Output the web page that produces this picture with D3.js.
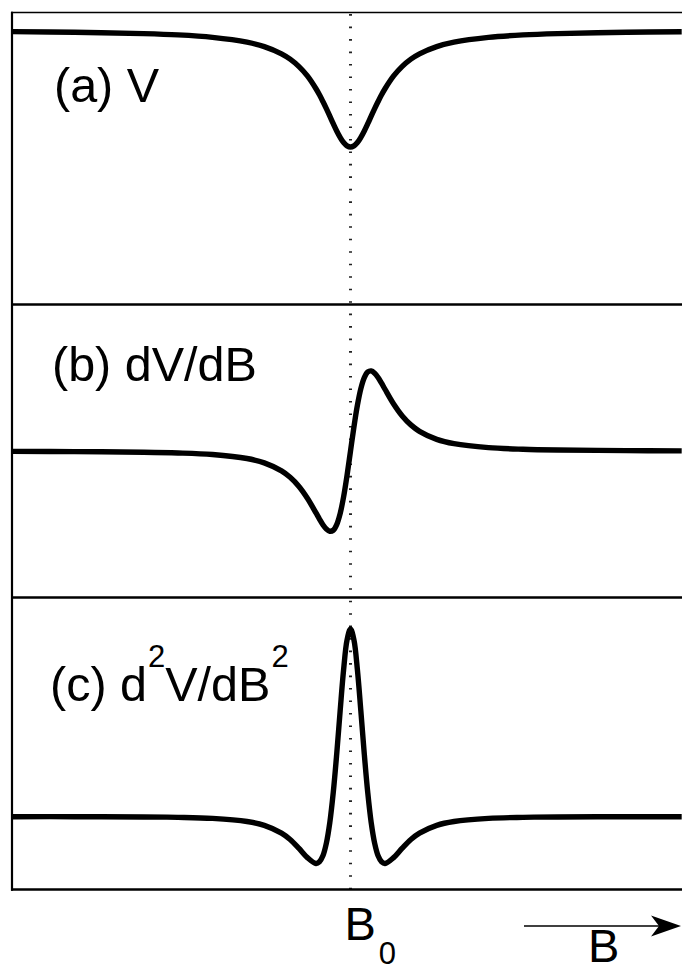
<!DOCTYPE html>
<html>
<head>
<meta charset="utf-8">
<script src="https://cdn.jsdelivr.net/npm/d3@7"></script>
<style>
  html, body { margin: 0; padding: 0; background: #fff; }
  svg { display: block; }
  text { font-family: "Liberation Sans", Arial, Helvetica, sans-serif; fill: #000; }
</style>
</head>
<body>
<div id="chart"></div>
<script>
// field offset from B0, in units of the line half-width
var B = [-9.8, -8, -6, -5, -4, -3, -2.5, -2, -1.75, -1.5, -1.25, -1, -0.9, -0.8, -0.7, -0.6, -0.5, -0.4, -0.3, -0.2, -0.1,
         0,
         0.1, 0.2, 0.3, 0.4, 0.5, 0.6, 0.7, 0.8, 0.9, 1, 1.25, 1.5, 1.75, 2, 2.5, 3, 4, 5, 6, 8, 9.6];

// (a) V
var V = [-0.010, -0.015, -0.027, -0.038, -0.059, -0.100, -0.138, -0.200, -0.246, -0.308, -0.390, -0.500, -0.552, -0.610, -0.671, -0.735, -0.800, -0.862, -0.917, -0.962, -0.990,
         -1.000,
         -0.990, -0.962, -0.917, -0.862, -0.800, -0.735, -0.671, -0.610, -0.552, -0.500, -0.390, -0.308, -0.246, -0.200, -0.138, -0.100, -0.059, -0.038, -0.027, -0.015, -0.011];

// (b) dV/dB
var dV = [-0.002, -0.004, -0.009, -0.015, -0.028, -0.060, -0.095, -0.160, -0.212, -0.284, -0.381, -0.500, -0.549, -0.595, -0.630, -0.648, -0.640, -0.594, -0.505, -0.370, -0.196,
          0,
          0.196, 0.370, 0.505, 0.594, 0.640, 0.648, 0.630, 0.595, 0.549, 0.500, 0.381, 0.284, 0.212, 0.160, 0.095, 0.060, 0.028, 0.015, 0.009, 0.004, 0.002];

// (c) d2V/dB2
var d2V = [-0.001, -0.001, -0.004, -0.008, -0.019, -0.052, -0.093, -0.176, -0.244, -0.336, -0.437, -0.500, -0.482, -0.418, -0.284, -0.064, 0.256, 0.666, 1.127, 1.566, 1.883,
           2.000,
           1.883, 1.566, 1.127, 0.666, 0.256, -0.064, -0.284, -0.418, -0.482, -0.500, -0.437, -0.336, -0.244, -0.176, -0.093, -0.052, -0.019, -0.008, -0.004, -0.001, -0.001];

var width = 682, height = 971;

var svg = d3.select("#chart").append("svg")
    .attr("width", width)
    .attr("height", height);

var x = d3.scaleLinear().domain([-1, 1]).range([316, 385]);

// one panel per trace, each with its own y scale
var panels = [
    { values: V,   y: d3.scaleLinear().domain([-1, 0]).range([147, 30.5]) },
    { values: dV,  y: d3.scaleLinear().domain([-0.65, 0.65]).range([531.5, 370.7]) },
    { values: d2V, y: d3.scaleLinear().domain([-0.5, 2]).range([863.5, 629]) }
];

var frameLeft = 12, frameTop = 12.5, frameBottom = 889.5;
var dividers = [304.5, 597.5];

// dotted line at B0
svg.append("line")
    .attr("x1", x(0)).attr("x2", x(0))
    .attr("y1", frameTop).attr("y2", frameBottom)
    .attr("stroke", "#222")
    .attr("stroke-width", 3)
    .attr("stroke-dasharray", "1.6 10.88")
    .attr("stroke-dashoffset", -1.6);

// traces
panels.forEach(function(p) {
    var line = d3.line()
        .x(function(d, i) { return x(B[i]); })
        .y(function(d) { return p.y(d); })
        .curve(d3.curveCatmullRom.alpha(0.5));

    svg.append("path")
        .datum(p.values)
        .attr("d", line)
        .attr("fill", "none")
        .attr("stroke", "#000")
        .attr("stroke-width", 5.4)
        .attr("stroke-linejoin", "round");
});

// frame
svg.append("line")
    .attr("x1", frameLeft - 1).attr("x2", width)
    .attr("y1", frameTop).attr("y2", frameTop)
    .attr("stroke", "#000").attr("stroke-width", 1.6);

dividers.concat([frameBottom]).forEach(function(yy) {
    svg.append("line")
        .attr("x1", frameLeft - 1).attr("x2", width)
        .attr("y1", yy).attr("y2", yy)
        .attr("stroke", "#000").attr("stroke-width", 2.4);
});

svg.append("line")
    .attr("x1", frameLeft).attr("x2", frameLeft)
    .attr("y1", frameTop - 0.8).attr("y2", frameBottom + 1.2)
    .attr("stroke", "#000").attr("stroke-width", 2.2);

// writes a row of text pieces one after another; each piece has its own size and raise
function textRun(x0, y0, pieces) {
    var cx = x0;
    pieces.forEach(function(p) {
        var t = svg.append("text")
            .attr("x", cx + (p.dx || 0))
            .attr("y", y0 - (p.raise || 0))
            .style("font-size", p.size + "px")
            .text(p.text);
        cx += (p.dx || 0) + t.node().getComputedTextLength();
    });
}

// panel labels
textRun(54, 102, [{ text: "(a) V", size: 48.5 }]);
textRun(52, 381, [{ text: "(b) dV/dB", size: 48.5 }]);
textRun(50, 701, [
    { text: "(c) d", size: 48.5 },
    { text: "2", size: 31, raise: 34, dx: 1 },
    { text: "V/dB", size: 48.5 },
    { text: "2", size: 31, raise: 34, dx: 1 }
]);

// B0 label under the dotted line
textRun(x(0) - 6, 940, [
    { text: "B", size: 47 },
    { text: "0", size: 31, raise: -24, dx: 3 }
]);

// field direction arrow
var ay = 926;
svg.append("line")
    .attr("x1", 524).attr("x2", 662)
    .attr("y1", ay).attr("y2", ay)
    .attr("stroke", "#000").attr("stroke-width", 1.4);

var head = d3.path();
head.moveTo(681, ay);
head.lineTo(651, ay - 10.5);
head.lineTo(659, ay);
head.lineTo(651, ay + 10.5);
head.closePath();
svg.append("path").attr("d", head.toString()).attr("fill", "#000");

textRun(588, 962, [{ text: "B", size: 47 }]);
</script>
</body>
</html>
